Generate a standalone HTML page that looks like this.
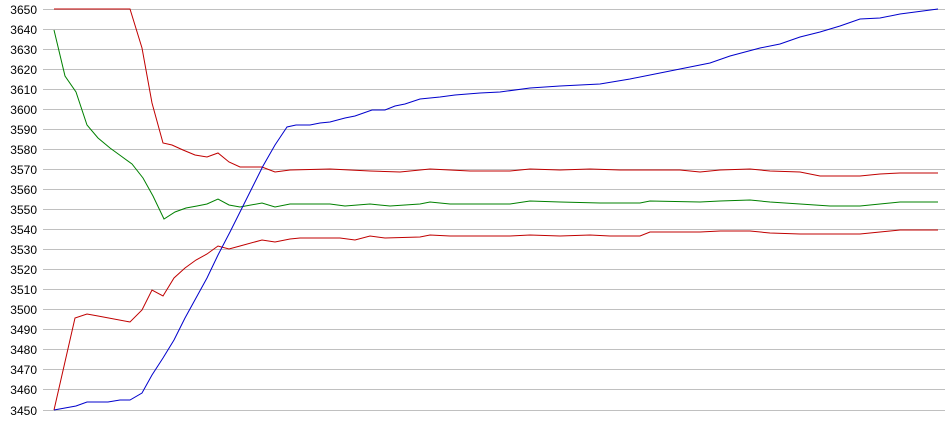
<!DOCTYPE html>
<html><head><meta charset="utf-8"><style>
html,body{margin:0;padding:0;background:#fff;}
svg{display:block;}
text{font-family:"Liberation Sans",Arial,sans-serif;font-size:12px;fill:#000;}
</style></head><body>
<svg width="950" height="435" xmlns="http://www.w3.org/2000/svg">
<g stroke="#c0c0c0" stroke-width="1" id="grid"></g>
<g id="labels"></g>
<g fill="none" stroke-width="1">
<polyline stroke="#c00000" points="54,9 130,9 142,48 152,103 163,143 172,145 183,150 195,155 207,157 218,153 229,162 240,167 262,167 275,172 290,170 330,169 370,171 400,172 430,169 470,171 510,171 530,169 560,170 590,169 620,170 680,170 700,172 720,170 750,169 770,171 800,172 820,176 860,176 880,174 900,173 938,173"/>
<polyline stroke="#c00000" points="54,410 75,318 87,314 98,316 130,322 142,310 152,290 163,296 174,278 185,268 196,260 207,254 218,246 229,249 240,246 262,240 275,242 290,239 300,238 340,238 355,240 370,236 385,238 420,237 430,235 450,236 510,236 530,235 560,236 590,235 610,236 640,236 650,232 700,232 720,231 750,231 770,233 800,234 860,234 880,232 900,230 938,230"/>
<polyline stroke="#008000" points="54,30 65,76 76,92 87,125 98,138 110,148 121,156 132,164 143,178 153,196 164,219 175,212 186,208 197,206 207,204 218,199 229,205 240,207 262,203 275,207 290,204 330,204 345,206 370,204 390,206 420,204 430,202 450,204 510,204 530,201 560,202 600,203 640,203 650,201 700,202 720,201 750,200 770,202 800,204 830,206 860,206 880,204 900,202 938,202"/>
<polyline stroke="#0000cc" points="54,410 65,408 76,406 87,402 108,402 120,400 130,400 142,393 152,375 163,358 174,340 185,318 196,298 207,278 218,255 230,232 241,210 252,188 263,166 275,145 287,127 296,125 310,125 320,123 330,122 345,118 355,116 372,110 385,110 395,106 405,104 420,99 440,97 455,95 480,93 500,92 530,88 560,86 600,84 630,79 660,73 690,67 710,63 730,56 760,48 780,44 800,37 820,32 840,26 860,19 880,18 900,14 938,9"/>
</g>
<script>
var g=document.getElementById('grid'),l=document.getElementById('labels'),ns='http://www.w3.org/2000/svg';
for(var k=0;k<=20;k++){var y=Math.round(9.5+20.05*k)+0.5-0.5;y=Math.floor(9+20.05*k)+0.5;
var ln=document.createElementNS(ns,'line');ln.setAttribute('x1',43);ln.setAttribute('x2',945);ln.setAttribute('y1',y);ln.setAttribute('y2',y);g.appendChild(ln);
var t=document.createElementNS(ns,'text');t.setAttribute('x',37);t.setAttribute('y',y+4.5);t.setAttribute('text-anchor','end');t.textContent=3650-10*k;l.appendChild(t);}
</script>
</svg>
</body></html>
